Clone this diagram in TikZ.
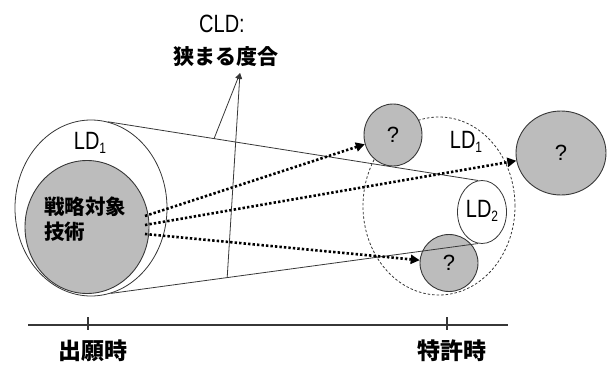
\documentclass[tikz,border=0pt]{standalone}
\usepackage{fontspec}
\setmainfont{Liberation Sans}
\newfontfamily\jp{Noto Sans CJK JP}
\newfontfamily\nar[FakeStretch=0.8]{Liberation Sans}
\usetikzlibrary{shapes.geometric,arrows.meta,calc}
\definecolor{fillg}{RGB}{188,188,188}
\definecolor{lineg}{RGB}{55,55,55}
\newcommand{\ldsub}[1]{LD\raisebox{-4pt}{\fontsize{15}{15}\selectfont #1}}
\begin{document}
\begin{tikzpicture}[x=1pt,y=-1pt,
  ldshape/.style={ellipse, draw=lineg, line width=0.8pt, inner sep=0pt},
  gball/.style={ellipse, draw=lineg, fill=fillg, line width=0.9pt, inner sep=0pt, font=\fontsize{22}{22}\selectfont},
  dotarrow/.style={line width=2.6pt, dash pattern=on 2.4pt off 2.1pt, -{Triangle[length=9pt,width=9pt]}},
  tline/.style={draw=lineg, line width=0.8pt},
  ldlabel/.style={font=\nar\fontsize{25}{25}\selectfont, inner sep=0pt},
  jplabel/.style={font=\jp\bfseries\fontsize{#1}{#1}\selectfont, inner sep=0pt}
]
\useasboundingbox (0,0) rectangle (610,364);

% left: LD1 and strategic technology
\node[ldshape, minimum width=152pt, minimum height=176pt] (outerL) at (91,208) {};
\node[gball, minimum width=124pt, minimum height=133pt] (tech) at (87,227) {};
\node[anchor=west, align=left, inner sep=0pt, font=\jp\bfseries\fontsize{20.5}{25}\selectfont] (techtxt) at (44,219) {戦略対象\\技術};
\node[ldlabel] (ldL) at (90,143) {\ldsub{1}};

% right: dashed LD1, LD2 and question balls
\node[ellipse, draw=lineg, line width=0.8pt, dash pattern=on 2.5pt off 2pt, inner sep=0pt, minimum width=152pt, minimum height=178pt] (outerR) at (439,206) {};
\node[ldlabel] (ldR) at (466,142) {\ldsub{1}};
\node[ldshape, fill=white, minimum width=49pt, minimum height=63pt] (ld2) at (482,212) {};
\node[ldlabel] (ld2txt) at (482,211) {\ldsub{2}};
\node[gball, minimum width=58pt, minimum height=62pt] (q1) at (393,135) {?};
\node[gball, minimum width=90pt, minimum height=84pt] (q2) at (561,153) {?};
\node[gball, minimum width=58pt, minimum height=57pt] (q3) at (449,263) {?};

% tangent lines
\draw[tline] (outerL.79) -- (ld2.97);
\draw[tline] (outerL.283) -- (ld2.263);

% dotted arrows
\coordinate (s1) at (145,216);
\coordinate (s2) at (145,225);
\coordinate (s3) at (145,234);
\draw[dotarrow] (s1) -- (q1);
\draw[dotarrow] (s2) -- (q2);
\draw[dotarrow] (s3) -- (q3);

% CLD label
\node[ldlabel] (cld) at (222,24) {CLD:};
\node[jplabel=21] (narrowing) at (226,57) {狭まる度合};
\coordinate (tip) at (240,73);
\coordinate (p1) at ($(outerL.79)!0.287!(ld2.97)$);
\coordinate (p2) at ($(outerL.283)!0.317!(ld2.263)$);
\draw[tline, -{Triangle[length=6pt,width=5pt]}] (p1) -- (tip);
\draw[tline, -{Triangle[length=6pt,width=5pt]}] (p2) -- (tip);

% timeline
\coordinate (tl0) at (28,325);
\coordinate (tl1) at (508,325);
\coordinate (t1) at (88,325);
\coordinate (t2) at (447,325);
\draw[draw=lineg, line width=1.2pt] (tl0) -- (tl1);
\draw[draw=lineg, line width=1.2pt] ([yshift=8pt]t1) -- ([yshift=-5pt]t1);
\draw[draw=lineg, line width=1.2pt] ([yshift=8pt]t2) -- ([yshift=-5pt]t2);
\node[jplabel=23] (lab1) at (93,351) {出願時};
\node[jplabel=23] (lab2) at (452,351) {特許時};
\end{tikzpicture}
\end{document}
